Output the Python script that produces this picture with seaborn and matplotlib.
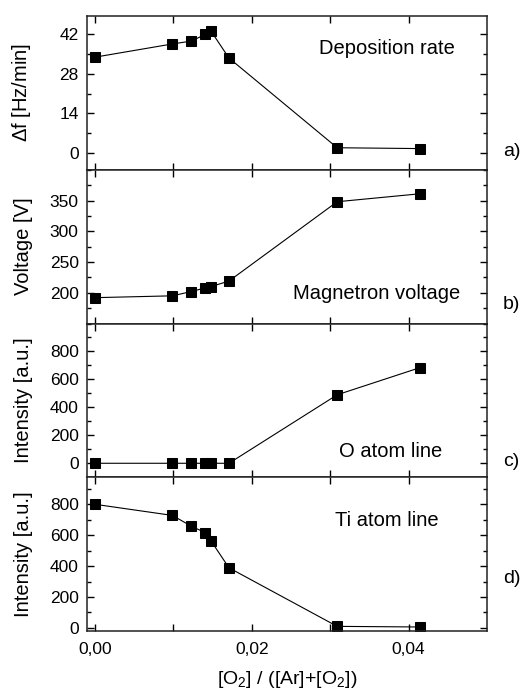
import numpy as np
import pandas as pd
import seaborn as sns
import matplotlib
matplotlib.use("Agg")
import matplotlib.pyplot as plt
from matplotlib.ticker import MultipleLocator, FixedLocator, FixedFormatter

sns.set_style("ticks")
plt.rcParams['font.family'] = ['Liberation Sans', 'DejaVu Sans']
plt.rcParams['mathtext.fontset'] = 'custom'
plt.rcParams['mathtext.rm'] = 'Liberation Sans'
plt.rcParams['mathtext.it'] = 'Liberation Sans'
for k in ['text.color', 'axes.labelcolor', 'xtick.color', 'ytick.color', 'axes.edgecolor']:
    plt.rcParams[k] = 'black'

# Data
o2_ratio = [0.0, 0.0099, 0.0123, 0.0141, 0.0148, 0.0171, 0.0309, 0.0415]
deposition_rate = [33.9, 38.6, 39.6, 42.0, 43.2, 33.6, 1.8, 1.5]
magnetron_voltage = [192, 195, 202, 208, 210, 219, 348, 361]
o_atom_line = [0, 0, 0, 0, 0, 0, 490, 685]
ti_atom_line = [800, 728, 658, 616, 564, 389, 10, 6]

x_tick_values = [0.0, 0.01, 0.02, 0.03, 0.04]
x_tick_labels = ['0,00', '', '0,02', '', '0,04']
rate_ticks = [0, 14, 28, 42]
voltage_ticks = [200, 250, 300, 350]
intensity_ticks = [0, 200, 400, 600, 800]

panels = [
    dict(y=deposition_rate, ylabel=r'$\Delta$f [Hz/min]', ylim=(-6, 48.5),
         ticks=rate_ticks, minor=7, title='Deposition rate', tpos=(0.75, 0.787), tag='a)', tagy=0.116),
    dict(y=magnetron_voltage, ylabel='Voltage [V]', ylim=(150, 400),
         ticks=voltage_ticks, minor=25, title='Magnetron voltage', tpos=(0.725, 0.196), tag='b)', tagy=0.124),
    dict(y=o_atom_line, ylabel='Intensity [a.u.]', ylim=(-100, 1000),
         ticks=intensity_ticks, minor=100, title='O atom line', tpos=(0.76, 0.169), tag='c)', tagy=0.10),
    dict(y=ti_atom_line, ylabel='Intensity [a.u.]', ylim=(-20, 975),
         ticks=intensity_ticks, minor=100, title='Ti atom line', tpos=(0.75, 0.72), tag='d)', tagy=0.34),
]

fig, axes = plt.subplots(4, 1, figsize=(5.27, 6.91), dpi=100, sharex=True)
fig.subplots_adjust(left=87/527, right=487/527, top=1-16/691, bottom=1-631/691, hspace=0)

for ax, p in zip(axes, panels):
    df = pd.DataFrame({'x': o2_ratio, 'y': p['y']})
    sns.lineplot(data=df, x='x', y='y', ax=ax, color='black', linewidth=0.8,
                 marker='s', markersize=6.5, markeredgecolor='black', markerfacecolor='black')
    ax.set_xlim(-0.001, 0.05)
    ax.set_ylim(*p['ylim'])
    ax.yaxis.set_major_locator(FixedLocator(p['ticks']))
    ax.yaxis.set_minor_locator(MultipleLocator(p['minor']))
    ax.xaxis.set_major_locator(FixedLocator(x_tick_values))
    ax.xaxis.set_major_formatter(FixedFormatter(x_tick_labels))
    ax.tick_params(axis='both', which='both', direction='in', top=True, right=True,
                   labelsize=12.5, width=1.0, color='black', labelcolor='black')
    ax.tick_params(axis='both', which='major', length=5)
    ax.tick_params(axis='y', which='major', pad=6)
    ax.tick_params(axis='x', which='major', pad=8)
    ax.tick_params(axis='y', which='minor', length=3)
    for s in ax.spines.values():
        s.set_linewidth(1.1)
        s.set_color('#222222')
    ax.set_ylabel(p['ylabel'], fontsize=14.5)
    ax.yaxis.set_label_coords(-0.135, 0.5)
    ax.set_xlabel('')
    ax.text(p['tpos'][0], p['tpos'][1], p['title'], transform=ax.transAxes,
            ha='center', va='center', fontsize=14.5)
    ax.text(1.04, p['tagy'], p['tag'], transform=ax.transAxes,
            ha='left', va='center', fontsize=14)

axes[-1].set_xlabel(r'[O$_2$] / ([Ar]+[O$_2$])', fontsize=14)
axes[-1].xaxis.set_label_coords(0.5, -0.25)
for ax in axes[:-1]:
    ax.tick_params(axis='x', labelbottom=False)

fig.savefig('out.png', dpi=100)
